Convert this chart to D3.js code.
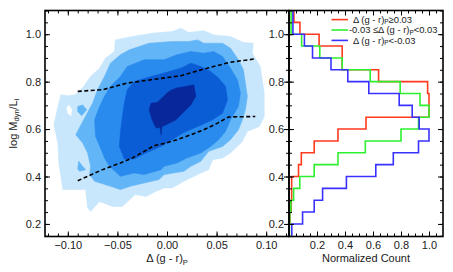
<!DOCTYPE html>
<html><head><meta charset="utf-8">
<script src="https://cdn.jsdelivr.net/npm/d3@7"></script>
<style>
html,body{margin:0;padding:0;background:#fff;}
svg{display:block;font-family:"Liberation Sans",Arial,Helvetica,sans-serif;}
</style></head><body>
<svg id="c" width="453" height="272"></svg>
<script>
// ---------- DATA ----------
// Left panel: filled density contours (polygons in data units: [Δ(g-r)_P, log Mdyn/Li])
const level1 = [[-0.052,0.976],[-0.035,0.990],[-0.015,1.004],[0.005,1.011],[0.014,1.025],[0.022,1.007],[0.037,1.015],[0.047,0.997],[0.064,0.990],[0.077,0.965],[0.087,0.962],[0.086,0.920],[0.094,0.864],[0.098,0.752],[0.098,0.653],[0.093,0.611],[0.081,0.590],[0.076,0.548],[0.064,0.499],[0.056,0.478],[0.046,0.471],[0.042,0.429],[0.034,0.415],[0.017,0.380],[0.005,0.352],[-0.003,0.352],[-0.011,0.338],[-0.021,0.316],[-0.032,0.324],[-0.045,0.274],[-0.055,0.274],[-0.068,0.295],[-0.077,0.253],[-0.080,0.267],[-0.082,0.345],[-0.105,0.345],[-0.109,0.457],[-0.110,0.541],[-0.114,0.618],[-0.110,0.695],[-0.107,0.745],[-0.099,0.740],[-0.092,0.745],[-0.084,0.780],[-0.077,0.822],[-0.068,0.857],[-0.062,0.899],[-0.053,0.927]];
const level1Hole = [[-0.099,0.702],[-0.096,0.681],[-0.097,0.656],[-0.100,0.667],[-0.101,0.688]];
const level2Islands = [
  [[-0.090,0.695],[-0.085,0.702],[-0.081,0.681],[-0.086,0.656],[-0.090,0.674]],
  [[-0.089,0.464],[-0.085,0.443],[-0.082,0.429],[-0.088,0.422],[-0.090,0.432]]
];
const level2 = [[-0.038,0.934],[-0.018,0.962],[0.005,0.969],[0.022,0.969],[0.031,0.976],[0.037,0.962],[0.056,0.962],[0.064,0.941],[0.072,0.892],[0.077,0.850],[0.079,0.794],[0.081,0.738],[0.079,0.681],[0.076,0.639],[0.072,0.597],[0.064,0.555],[0.056,0.527],[0.042,0.506],[0.034,0.464],[0.024,0.443],[0.017,0.422],[-0.003,0.408],[-0.008,0.387],[-0.023,0.373],[-0.037,0.359],[-0.047,0.345],[-0.057,0.359],[-0.073,0.380],[-0.078,0.408],[-0.077,0.443],[-0.080,0.499],[-0.085,0.541],[-0.092,0.576],[-0.084,0.639],[-0.075,0.709],[-0.070,0.766],[-0.063,0.822],[-0.057,0.878],[-0.047,0.913]];
const level3 = [[-0.047,0.822],[-0.040,0.864],[-0.023,0.892],[-0.003,0.892],[0.010,0.913],[0.024,0.927],[0.037,0.920],[0.047,0.927],[0.056,0.906],[0.064,0.857],[0.071,0.808],[0.074,0.752],[0.072,0.695],[0.064,0.639],[0.059,0.590],[0.052,0.555],[0.044,0.527],[0.034,0.499],[0.020,0.478],[0.010,0.457],[-0.003,0.443],[-0.006,0.429],[-0.023,0.408],[-0.033,0.415],[-0.047,0.401],[-0.058,0.443],[-0.063,0.478],[-0.067,0.520],[-0.072,0.569],[-0.073,0.639],[-0.068,0.695],[-0.063,0.738],[-0.057,0.780]];
const level4 = [[-0.040,0.766],[-0.033,0.801],[-0.016,0.822],[-0.003,0.836],[0.014,0.857],[0.024,0.878],[0.034,0.864],[0.044,0.843],[0.052,0.815],[0.059,0.780],[0.061,0.724],[0.056,0.667],[0.046,0.639],[0.031,0.611],[0.017,0.586],[0.005,0.555],[-0.006,0.527],[-0.023,0.496],[-0.033,0.474],[-0.043,0.474],[-0.048,0.527],[-0.047,0.583],[-0.045,0.653],[-0.043,0.709]];
const level5 = [[-0.018,0.681],[-0.016,0.709],[-0.010,0.712],[-0.005,0.731],[0.000,0.752],[0.005,0.766],[0.010,0.773],[0.019,0.780],[0.027,0.787],[0.029,0.738],[0.024,0.702],[0.019,0.681],[0.014,0.660],[0.009,0.639],[-0.001,0.618],[-0.005,0.611],[-0.006,0.576],[-0.007,0.608],[-0.011,0.604],[-0.015,0.639]];
// dashed percentile lines
const upperLine = [[-0.090,0.759],[-0.065,0.766],[-0.040,0.794],[-0.016,0.808],[0.014,0.825],[0.037,0.853],[0.064,0.882],[0.089,0.896]];
const lowerLine = [[-0.090,0.382],[-0.080,0.401],[-0.065,0.429],[-0.047,0.457],[-0.035,0.478],[-0.023,0.506],[-0.013,0.530],[-0.001,0.541],[0.010,0.555],[0.024,0.576],[0.037,0.597],[0.051,0.625],[0.062,0.651],[0.089,0.653]];

// Right panel: normalized histograms (bin lower edges, width 0.05)
const binLow = [0.15,0.20,0.25,0.30,0.35,0.40,0.45,0.50,0.55,0.60,0.65,0.70,0.75,0.80,0.85,0.90,0.95,1.00,1.05];
const binWidth = 0.05;
const redCounts   = [0.000,0.007,0.016,0.019,0.019,0.068,0.088,0.180,0.350,0.550,1.000,1.000,0.990,0.640,0.380,0.380,0.215,0.078,0.035];
const greenCounts = [0.003,0.006,0.013,0.033,0.077,0.180,0.350,0.545,0.800,0.925,1.000,0.936,0.794,0.580,0.380,0.220,0.090,0.015,0.015];
const blueCounts  = [0.020,0.097,0.180,0.240,0.410,0.620,0.745,0.925,1.000,0.930,0.880,0.787,0.570,0.420,0.300,0.168,0.110,0.028,0.028];

// ticks
const leftXTicks = [-0.10,-0.05,0.00,0.05,0.10];
const yTicks = [0.2,0.4,0.6,0.8,1.0];
const rightXTicks = [0.2,0.4,0.6,0.8,1.0];

// ---------- LAYOUT ----------
const svg = d3.select("#c");
const L = {x0:45, x1:289, y0:10.5, y1:236.5};
const R = {x0:289, x1:443};
const xL = d3.scaleLinear().domain([-0.123,0.123]).range([L.x0,L.x1]);
const yS = d3.scaleLinear().domain([0.147,1.10]).range([L.y1,L.y0]);
const xR = d3.scaleLinear().domain([0,1.1]).range([R.x0,R.x1]);
const FONT = 11;
const TXT = "#1a1a1a";

const defs = svg.append("defs");
defs.append("clipPath").attr("id","clipL").append("rect")
  .attr("x",L.x0).attr("y",L.y0).attr("width",L.x1-L.x0).attr("height",L.y1-L.y0);
defs.append("clipPath").attr("id","clipR").append("rect")
  .attr("x",R.x0).attr("y",L.y0).attr("width",R.x1-R.x0).attr("height",L.y1-L.y0);

// ---------- CONTOURS ----------
const cCols = ["#c8e6fc","#62b5f6","#2a8bef","#0b5dd6","#07279b"];
const poly = d3.line().x(d=>xL(d[0])).y(d=>yS(d[1])).curve(d3.curveLinearClosed);
const gC = svg.append("g").attr("clip-path","url(#clipL)");
const layers = [
  {p:level1,c:cCols[0]},{p:level1Hole,c:"#ffffff"},
  {p:level2Islands[0],c:cCols[1]},{p:level2Islands[1],c:cCols[1]},
  {p:level2,c:cCols[1]},{p:level3,c:cCols[2]},{p:level4,c:cCols[3]},{p:level5,c:cCols[4]}
];
gC.selectAll("path.lev").data(layers).join("path").attr("class","lev")
  .attr("d",d=>poly(d.p)).attr("fill",d=>d.c).attr("stroke",d=>d.c).attr("stroke-width",0.6)
  .attr("stroke-linejoin","round");

const ln = d3.line().x(d=>xL(d[0])).y(d=>yS(d[1]));
gC.selectAll("path.dl").data([upperLine,lowerLine]).join("path").attr("class","dl")
  .attr("d",ln).attr("fill","none").attr("stroke","#000").attr("stroke-width",1.6)
  .attr("stroke-dasharray","4,2.5");

// ---------- HISTOGRAMS ----------
const gH = svg.append("g").attr("clip-path","url(#clipR)");
function stepPts(counts){
  const pts=[];
  counts.forEach((v,i)=>{pts.push([v,binLow[i]]);pts.push([v,binLow[i]+binWidth]);});
  return pts;
}
const hl = d3.line().x(d=>xR(d[0])).y(d=>yS(d[1]));
const hist = [{c:redCounts,col:"#ff3a1f"},{c:greenCounts,col:"#2ef02e"},{c:blueCounts,col:"#3a30ff"}];
gH.selectAll("path.h").data(hist).join("path").attr("class","h")
  .attr("d",d=>hl(stepPts(d.c))).attr("fill","none").attr("stroke",d=>d.col)
  .attr("stroke-width",1.6).attr("stroke-linejoin","miter");

// ---------- AXES ----------
function styleAxis(g){
  g.attr("font-size",FONT).attr("font-family",null);
  g.select(".domain").remove();
  g.selectAll(".tick line").attr("stroke","#000").attr("stroke-width",1);
  g.selectAll(".tick text").attr("fill",TXT);
}
const fmt2 = d3.format(".2f"), fmt1 = d3.format(".1f");
const MAJ=5, MIN=3;
const xMinorL = d3.range(-12,13).map(i=>i/100);
// left panel bottom
svg.append("g").attr("transform",`translate(0,${L.y1})`)
  .call(d3.axisBottom(xL).tickValues(leftXTicks).tickFormat(fmt2).tickSizeInner(-MAJ).tickSizeOuter(0).tickPadding(5))
  .call(styleAxis);
svg.append("g").attr("transform",`translate(0,${L.y1})`)
  .call(d3.axisBottom(xL).tickValues(xMinorL).tickFormat("").tickSizeInner(-MIN).tickSizeOuter(0))
  .call(styleAxis);
// left panel top
svg.append("g").attr("transform",`translate(0,${L.y0})`)
  .call(d3.axisTop(xL).tickValues(leftXTicks).tickFormat("").tickSizeInner(-MAJ).tickSizeOuter(0)).call(styleAxis);
svg.append("g").attr("transform",`translate(0,${L.y0})`)
  .call(d3.axisTop(xL).tickValues(xMinorL).tickFormat("").tickSizeInner(-MIN).tickSizeOuter(0)).call(styleAxis);
// y minor values
const yMinor = d3.range(3,23).map(i=>i*0.05);
// left panel left axis
svg.append("g").attr("transform",`translate(${L.x0},0)`)
  .call(d3.axisLeft(yS).tickValues(yTicks).tickFormat(fmt1).tickSizeInner(-MAJ).tickSizeOuter(0).tickPadding(4))
  .call(styleAxis);
svg.append("g").attr("transform",`translate(${L.x0},0)`)
  .call(d3.axisLeft(yS).tickValues(yMinor).tickFormat("").tickSizeInner(-MIN).tickSizeOuter(0)).call(styleAxis);
// left panel right side (inward ticks) + right panel left axis labels
svg.append("g").attr("transform",`translate(${L.x1},0)`)
  .call(d3.axisRight(yS).tickValues(yTicks).tickFormat("").tickSizeInner(-MAJ).tickSizeOuter(0)).call(styleAxis);
svg.append("g").attr("transform",`translate(${L.x1},0)`)
  .call(d3.axisRight(yS).tickValues(yMinor).tickFormat("").tickSizeInner(-MIN).tickSizeOuter(0)).call(styleAxis);
svg.append("g").attr("transform",`translate(${R.x0},0)`)
  .call(d3.axisLeft(yS).tickValues(yTicks).tickFormat(fmt1).tickSizeInner(-MAJ).tickSizeOuter(0).tickPadding(5))
  .call(styleAxis);
svg.append("g").attr("transform",`translate(${R.x0},0)`)
  .call(d3.axisLeft(yS).tickValues(yMinor).tickFormat("").tickSizeInner(-MIN).tickSizeOuter(0)).call(styleAxis);
// right panel right axis
svg.append("g").attr("transform",`translate(${R.x1},0)`)
  .call(d3.axisRight(yS).tickValues(yTicks).tickFormat("").tickSizeInner(-MAJ).tickSizeOuter(0)).call(styleAxis);
svg.append("g").attr("transform",`translate(${R.x1},0)`)
  .call(d3.axisRight(yS).tickValues(yMinor).tickFormat("").tickSizeInner(-MIN).tickSizeOuter(0)).call(styleAxis);
// right panel bottom/top
const rMinor = d3.range(1,22).map(i=>i*0.05);
svg.append("g").attr("transform",`translate(0,${L.y1})`)
  .call(d3.axisBottom(xR).tickValues(rightXTicks).tickFormat(fmt1).tickSizeInner(-MAJ).tickSizeOuter(0).tickPadding(5))
  .call(styleAxis);
svg.append("g").attr("transform",`translate(0,${L.y1})`)
  .call(d3.axisBottom(xR).tickValues(rMinor).tickFormat("").tickSizeInner(-MIN).tickSizeOuter(0)).call(styleAxis);
svg.append("g").attr("transform",`translate(0,${L.y0})`)
  .call(d3.axisTop(xR).tickValues(rightXTicks).tickFormat("").tickSizeInner(-MAJ).tickSizeOuter(0)).call(styleAxis);
svg.append("g").attr("transform",`translate(0,${L.y0})`)
  .call(d3.axisTop(xR).tickValues(rMinor).tickFormat("").tickSizeInner(-MIN).tickSizeOuter(0)).call(styleAxis);

// frames
svg.append("rect").attr("x",L.x0).attr("y",L.y0).attr("width",L.x1-L.x0).attr("height",L.y1-L.y0)
  .attr("fill","none").attr("stroke","#000").attr("stroke-width",1.6);
svg.append("rect").attr("x",R.x0).attr("y",L.y0).attr("width",R.x1-R.x0).attr("height",L.y1-L.y0)
  .attr("fill","none").attr("stroke","#000").attr("stroke-width",1.6);

// ---------- TITLES ----------
function subText(sel, parts, fs, sh){
  parts.forEach(p=>{
    const t = sel.append("tspan").text(p.t);
    if(p.sub){ t.attr("font-size",fs*0.68).attr("dy",sh); }
    else if(p.after){ t.attr("dy",-sh); }
  });
}
const xt = svg.append("text").attr("x",xL(0)).attr("y",262).attr("text-anchor","middle")
  .attr("font-size",FONT).attr("fill",TXT);
subText(xt,[{t:"Δ (g - r)"},{t:"P",sub:true}],FONT,2.5);
svg.append("text").attr("x",xR(0.55)).attr("y",262).attr("text-anchor","middle")
  .attr("font-size",FONT).attr("fill",TXT).text("Normalized Count");
const yt = svg.append("text").attr("transform",`translate(16.5,${(L.y0+L.y1)/2}) rotate(-90)`)
  .attr("text-anchor","middle").attr("font-size",FONT).attr("fill",TXT);
subText(yt,[{t:"log M"},{t:"dyn",sub:true},{t:"/L",after:true},{t:"i",sub:true}],FONT,2.5);

// ---------- LEGEND ----------
const legendItems = [
  {col:"#ff3a1f", parts:[{t:"Δ (g - r)"},{t:"P",sub:true},{t:"≥0.03",after:true}], tx:353},
  {col:"#2ef02e", parts:[{t:"-0.03 ≤Δ (g - r)"},{t:"P",sub:true},{t:"<0.03",after:true}], tx:349},
  {col:"#3a30ff", parts:[{t:"Δ (g - r)"},{t:"P",sub:true},{t:"<-0.03",after:true}], tx:353}
];
const LF = 9.4;
legendItems.forEach((it,i)=>{
  const y = 19.6 + i*10.4;
  svg.append("line").attr("x1",331.5).attr("x2",348).attr("y1",y).attr("y2",y)
    .attr("stroke",it.col).attr("stroke-width",1.6);
  const t = svg.append("text").attr("x",it.tx).attr("y",y+3.3).attr("font-size",LF).attr("fill",TXT);
  subText(t,it.parts,LF,1.4);
});
</script>
</body></html>
